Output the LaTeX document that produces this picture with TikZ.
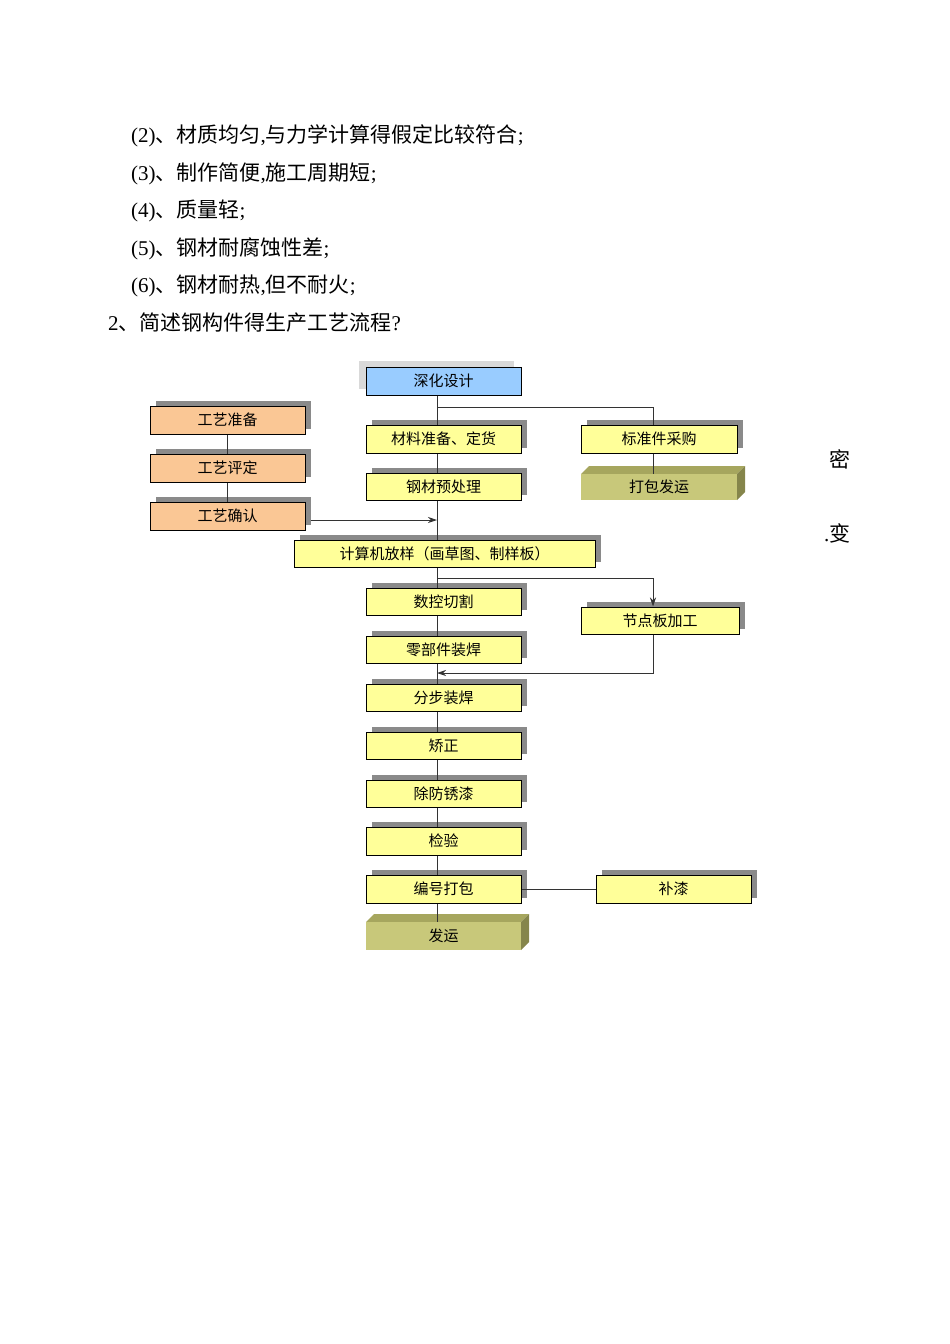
\documentclass[tikz,border=0pt]{standalone}
\usepackage{fontspec}
\setmainfont{Noto Sans CJK SC}
\newfontfamily\serifl{Liberation Serif}
\usetikzlibrary{shadows,arrows.meta}
\definecolor{yel}{HTML}{FFFF99}
\definecolor{org}{HTML}{FAC795}
\definecolor{blu}{HTML}{99CCFF}
\definecolor{olf}{HTML}{C8C87A}
\definecolor{olt}{HTML}{A6A65E}
\definecolor{shd}{HTML}{8A8A8A}
\tikzset{
 bx/.style={draw=black,line width=1pt,inner sep=0pt,font=\fontsize{15}{15}\selectfont,
   general shadow={fill=shd,shadow xshift=6pt,shadow yshift=5pt}},
 ln/.style={draw=black!80,line width=0.9pt},
 ar/.style={ln,-{Stealth[length=9pt,width=6pt]}},
 txt/.style={anchor=west,inner sep=0pt,font=\fontsize{21}{21}\selectfont}
}
\newcommand\mybox[7]{\node[bx,fill=#6,minimum width={#4-#2},minimum height={#5-#3}] (#1) at ({(#2+#4)/2},{(#3+#5)/2}) {#7};}
\newcommand\mycube[6]{%
 \fill[olt] (#2,#3) -- (#2+8,#3-8) -- (#4+8,#3-8) -- (#4,#3) -- cycle;
 \fill[olt!80!black] (#4,#3) -- (#4+8,#3-8) -- (#4+8,#5-8) -- (#4,#5) -- cycle;
 \node[fill=olf,inner sep=0pt,minimum width={#4-#2},minimum height={#5-#3},font=\fontsize{15}{15}\selectfont] (#1) at ({(#2+#4)/2},{(#3+#5)/2}) {#6};}
\begin{document}
\begin{tikzpicture}[x=1pt,y=-1pt]
\useasboundingbox (0,0) rectangle (950,1344);
\node[txt] (t1) at (131,136) {{\serifl(2)}、材质均匀{\serifl,}与力学计算得假定比较符合{\serifl;}};
\node[txt] (t2) at (131,174) {{\serifl(3)}、制作简便{\serifl,}施工周期短{\serifl;}};
\node[txt] (t3) at (131,211) {{\serifl(4)}、质量轻{\serifl;}};
\node[txt] (t4) at (131,249) {{\serifl(5)}、钢材耐腐蚀性差{\serifl;}};
\node[txt] (t5) at (131,286) {{\serifl(6)}、钢材耐热{\serifl,}但不耐火{\serifl;}};
\node[txt] (t6) at (108,323) {{\serifl 2}、简述钢构件得生产工艺流程{\serifl?}};
\node[txt] (m1) at (829,459) {密};
\node[txt] (m2) at (824,533) {{\serifl.}变};
% boxes
\node[draw=black,line width=1pt,fill=blu,minimum width=155,minimum height=28,inner sep=0pt,font=\fontsize{15}{15}\selectfont,
  general shadow={fill=black!15,shadow xshift=-7pt,shadow yshift=6pt}] (sh) at (443.5,381) {深化设计};
\mybox{p1}{150}{406}{305}{434}{org}{工艺准备}
\mybox{p2}{150}{454}{305}{482}{org}{工艺评定}
\mybox{p3}{150}{502}{305}{530}{org}{工艺确认}
\mybox{cl}{366}{425}{521}{453}{yel}{材料准备、定货}
\mybox{bz}{581}{425}{737}{453}{yel}{标准件采购}
\mycube{db}{581}{474}{737}{500}{打包发运}
\mybox{yc}{366}{473}{521}{500}{yel}{钢材预处理}
\mybox{js}{294}{540}{595}{567}{yel}{计算机放样（画草图、制样板）}
\mybox{sk}{366}{588}{521}{615}{yel}{数控切割}
\mybox{jd}{581}{607}{739}{634}{yel}{节点板加工}
\mybox{lb}{366}{636}{521}{663}{yel}{零部件装焊}
\mybox{fb}{366}{684}{521}{711}{yel}{分步装焊}
\mybox{jz}{366}{732}{521}{759}{yel}{矫正}
\mybox{cf}{366}{780}{521}{807}{yel}{除防锈漆}
\mybox{jy}{366}{827}{521}{855}{yel}{检验}
\mybox{bh}{366}{875}{521}{903}{yel}{编号打包}
\mybox{bq}{596}{875}{751}{903}{yel}{补漆}
\mycube{fy}{366}{922}{521}{950}{发运}
% connectors
\coordinate (mx) at (437,0);
\coordinate (rx) at (653,0);
\draw[ln] (sh.south -| mx) -- (cl.north -| mx);
\draw[ln] (sh.south -| mx) |- (653,407) -- (bz.north -| rx);
\draw[ln] (bz.south -| rx) -- (db.north -| rx);
\draw[ln] (cl.south -| mx) -- (yc.north -| mx);
\draw[ln] (yc.south -| mx) -- (js.north -| mx);
\draw[ln] (p1) -- (p2); \draw[ln] (p2) -- (p3);
\coordinate (ae) at (437,520);
\draw[ar] (p3.east |- ae) ++(5,0) -- (ae);
\draw[ln] (js.south -| mx) -- (sk.north -| mx);
\draw[ar] (js.south -| mx) ++(0,11) -| (jd.north -| rx);
\draw[ln] (sk.south -| mx) -- (lb.north -| mx);
\draw[ln] (lb.south -| mx) -- (fb.north -| mx);
\coordinate (ak) at (437,673);
\draw[ar] (jd.south -| rx) |- (ak);
\draw[ln] (fb.south -| mx) -- (jz.north -| mx);
\draw[ln] (jz.south -| mx) -- (cf.north -| mx);
\draw[ln] (cf.south -| mx) -- (jy.north -| mx);
\draw[ln] (jy.south -| mx) -- (bh.north -| mx);
\draw[ln] (bh.south -| mx) -- (fy.north -| mx);
\draw[ln] (bh) -- (bq);
\end{tikzpicture}
\end{document}
